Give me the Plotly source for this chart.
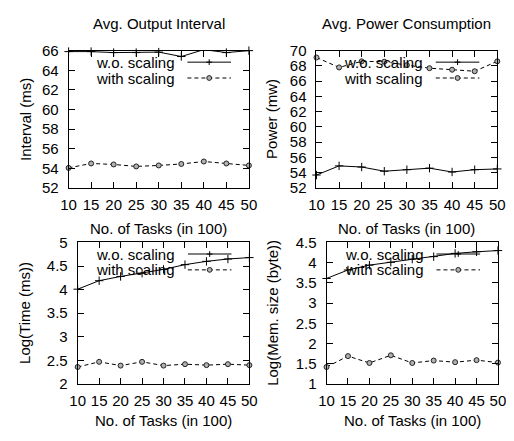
import plotly.graph_objects as go

# ---- data ----
tasks = [10, 15, 20, 25, 30, 35, 40, 45, 50]

interval_wo = [65.9, 65.9, 65.8, 65.8, 65.85, 65.4, 66.1, 65.8, 66.0]
interval_with = [54.05, 54.5, 54.4, 54.2, 54.3, 54.45, 54.7, 54.5, 54.3]

power_wo = [53.7, 54.9, 54.75, 54.2, 54.4, 54.6, 54.1, 54.4, 54.5]
power_with = [69.1, 67.8, 68.6, 68.55, 68.1, 67.7, 67.5, 67.3, 68.6]

logtime_wo = [4.01, 4.19, 4.28, 4.35, 4.43, 4.53, 4.6, 4.65, 4.68]
logtime_with = [2.36, 2.47, 2.39, 2.47, 2.39, 2.42, 2.4, 2.42, 2.4]

logmem_wo = [3.61, 3.82, 3.94, 4.01, 4.09, 4.15, 4.23, 4.27, 4.3]
logmem_with = [1.42, 1.69, 1.52, 1.71, 1.52, 1.58, 1.54, 1.59, 1.53]

series_names = ["w.o. scaling", "with scaling"]
panel_titles = ["Avg. Output Interval", "Avg. Power Consumption", "", ""]
y_titles = ["Interval (ms)", "Power (mw)", "Log(Time (ms))", "Log(Mem. size (byte))"]
x_title = "No. of Tasks (in 100)"
y_ranges = [[52, 66], [52, 70], [2, 5], [1, 4.5]]
y_dticks = [2, 2, 0.5, 0.5]

# ---- layout geometry (pixels in the 514x441 window) ----
OFF = 8  # default page body margin
W, H = 514 - OFF, 441 - OFF
panels = [  # x0, x1, top, bottom
    (62.3, 248.5, 43, 186),
    (318.3, 505, 43, 186),
    (71.7, 249, 242.7, 390),
    (328.7, 505.7, 242.7, 390),
]
ytitle_x = [18, 272, 17, 273]
xtitle_y = [228, 228, 428, 428]


def px(x):
    return (x - OFF) / W


def py(y):
    return 1 - (y - OFF) / H


FONT = "Liberation Sans, Arial, Helvetica, sans-serif"
fs = 15
CIRC_FILL = "#b0b0b0"
CIRC_LINE = "#222222"

fig = go.Figure()
data = [
    (interval_wo, interval_with),
    (power_wo, power_with),
    (logtime_wo, logtime_with),
    (logmem_wo, logmem_with),
]

annotations = []
shapes = []
layout_axes = {}
for i, (wo, wi) in enumerate(data):
    n = "" if i == 0 else str(i + 1)
    xa, ya = "x" + n, "y" + n
    fig.add_trace(go.Scatter(
        x=tasks, y=wo, xaxis=xa, yaxis=ya, mode="lines+markers",
        name=series_names[0], showlegend=False, cliponaxis=False,
        line=dict(color="black", width=1),
        marker=dict(symbol="cross-thin", size=6, line=dict(color="black", width=1)),
    ))
    fig.add_trace(go.Scatter(
        x=tasks, y=wi, xaxis=xa, yaxis=ya, mode="lines+markers",
        name=series_names[1], showlegend=False, cliponaxis=False,
        line=dict(color="black", width=1, dash="4px,3px"),
        marker=dict(symbol="circle", size=5, color=CIRC_FILL,
                    line=dict(color=CIRC_LINE, width=1)),
    ))
    x0, x1, top, bot = panels[i]
    axcommon = dict(showline=True, linecolor="black", linewidth=1, mirror="allticks",
                    ticks="inside", ticklen=6, tickcolor="black", tickwidth=1,
                    showgrid=False, zeroline=False,
                    tickfont=dict(family=FONT, size=fs, color="black"))
    layout_axes["xaxis" + n] = dict(
        axcommon, domain=[px(x0), px(x1)], anchor=ya, range=[10, 50],
        tickmode="linear", tick0=10, dtick=5, ticklabelstandoff=3)
    layout_axes["yaxis" + n] = dict(
        axcommon, domain=[py(bot), py(top)], anchor=xa, range=y_ranges[i],
        tickmode="linear", tick0=y_ranges[i][0], dtick=y_dticks[i],
        ticklabelstandoff=6)

    cx = (x0 + x1) / 2
    if panel_titles[i]:
        annotations.append(dict(text=panel_titles[i], xref="paper", yref="paper",
                                x=px(cx), y=py(15), showarrow=False,
                                xanchor="center", yanchor="middle",
                                font=dict(family=FONT, size=fs, color="black")))
    annotations.append(dict(text=x_title, xref="paper", yref="paper",
                            x=px(cx), y=py(xtitle_y[i]), showarrow=False,
                            xanchor="center", yanchor="middle",
                            font=dict(family=FONT, size=fs, color="black")))
    annotations.append(dict(text=y_titles[i], xref="paper", yref="paper",
                            x=px(ytitle_x[i]), y=py((top + bot) / 2), showarrow=False,
                            textangle=-90, xanchor="center", yanchor="middle",
                            font=dict(family=FONT, size=fs, color="black")))

    # legend (gnuplot style: text then sample)
    rows = [top + 12, top + 28.5]
    for k, name in enumerate(series_names):
        ry = rows[k]
        annotations.append(dict(text=name, xref="paper", yref="paper",
                                x=px(x1 - 74.5), y=py(ry), showarrow=False,
                                xanchor="right", yanchor="middle",
                                font=dict(family=FONT, size=fs, color="black")))
        lx0, lx1 = x1 - 63.5, x1 - 18.5
        shapes.append(dict(type="line", xref="paper", yref="paper",
                           x0=px(lx0), x1=px(lx1), y0=py(ry), y1=py(ry),
                           line=dict(color="black", width=1,
                                     dash="solid" if k == 0 else "4px,3px")))
        mx = (lx0 + lx1) / 2
        if k == 0:
            shapes.append(dict(type="line", xref="paper", yref="paper",
                               x0=px(mx - 3), x1=px(mx + 3), y0=py(ry), y1=py(ry),
                               line=dict(color="black", width=1)))
            shapes.append(dict(type="line", xref="paper", yref="paper",
                               x0=px(mx), x1=px(mx), y0=py(ry - 3), y1=py(ry + 3),
                               line=dict(color="black", width=1)))
        else:
            shapes.append(dict(type="circle", xref="paper", yref="paper",
                               x0=px(mx - 2.5), x1=px(mx + 2.5),
                               y0=py(ry - 2.5), y1=py(ry + 2.5),
                               fillcolor=CIRC_FILL, line=dict(color=CIRC_LINE, width=1)))

fig.update_layout(
    width=W, height=H,
    margin=dict(l=0, r=0, t=0, b=0),
    paper_bgcolor="white", plot_bgcolor="white",
    showlegend=False,
    annotations=annotations, shapes=shapes,
    **layout_axes,
)

fig.write_html("out.html")
